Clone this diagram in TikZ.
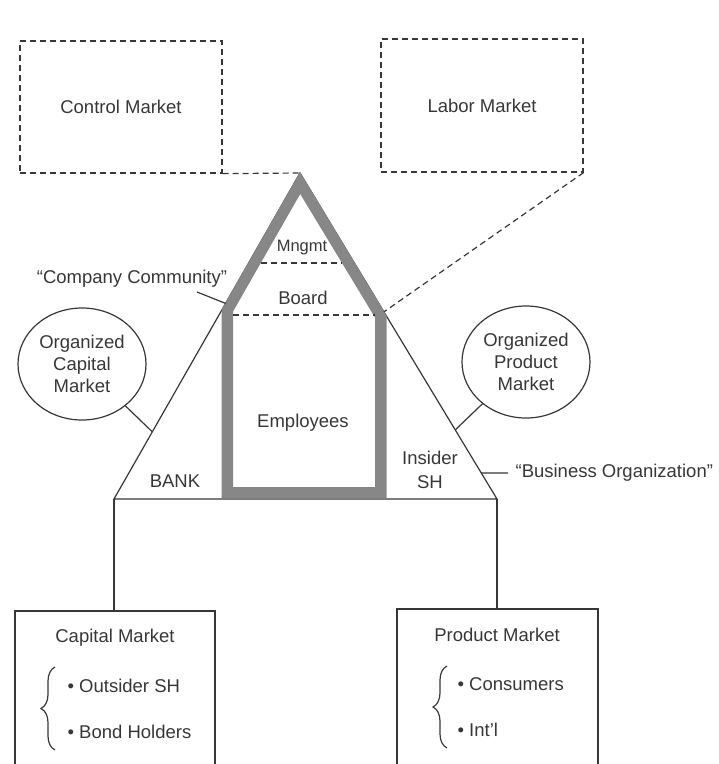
\documentclass[tikz,border=0pt]{standalone}
\usepackage{fontspec}
\setmainfont{Liberation Sans}
\usetikzlibrary{shapes.geometric,decorations.pathreplacing,calc}
\definecolor{housegray}{RGB}{135,135,135}
\definecolor{ink}{RGB}{55,55,55}
\begin{document}
\begin{tikzpicture}[x=1pt,y=-1pt,line width=1.2pt,
  inkline/.style={draw=ink},
  dline/.style={draw=ink,dash pattern=on 6pt off 4pt},
  lbl/.style={text=ink,font=\fontsize{18.5}{22}\selectfont,inner sep=0pt},
  dashbox/.style={dline,minimum width=202pt,minimum height=132pt,inner sep=0pt,text=ink,font=\fontsize{18.5}{22}\selectfont},
  solidbox/.style={draw=ink,inner sep=0pt},
  oval/.style={ellipse,draw=ink,minimum width=128pt,minimum height=112pt,inner sep=0pt,align=center,text=ink,font=\fontsize{18.5}{22}\selectfont},
  bracestyle/.style={draw=ink,decorate,decoration={brace,amplitude=14pt}}]
\useasboundingbox (0,0) rectangle (719,764);
\clip (0,0) rectangle (719,764);

% top dashed boxes
\node[dashbox] (ctrl) at (121,107) {Control Market};
\node[dashbox,minimum height=133pt] (labor) at (482,105.5) {Labor Market};

% triangle corners
\coordinate (apex) at (300,173);
\coordinate (bl) at (114,499);
\coordinate (br) at (497,499);
\draw[inkline] (apex) -- (bl) -- (br) -- cycle;

% house band
\fill[housegray,even odd rule]
  (300,172) -- (221.5,309.7) -- (221.5,498) -- (386.5,498) -- (386.5,315.3) -- cycle
  (300.2,194) -- (233,311.6) -- (233,487) -- (375,487) -- (375,317.5) -- cycle;
\draw[dline] (260.7,263) -- (342.1,263);
\draw[dline] (233,315) -- (375,315);

% dashed connectors
\coordinate (boardR) at ($(apex)!0.426!(br)$);
\draw[dline] (ctrl.south east) -- (apex);
\draw[dline] (labor.south east) -- (boardR);

% inner labels
\node[lbl,font=\fontsize{16.5}{20}\selectfont] (mng) at (302,248) {Mngmt};
\node[lbl] (board) at (303,298) {Board};
\node[lbl] (emp) at (303,423) {Employees};
\node[lbl] (bank) at (175,481) {BANK};
\node[lbl,align=center,font=\fontsize{18.5}{24}\selectfont] (ins) at (430,470) {Insider\\SH};

% ellipses
\node[oval] (ocm) at (82,364) {Organized\\Capital\\Market};
\node[oval] (opm) at (526,362) {Organized\\Product\\Market};
\coordinate (ocmL) at ($(apex)!0.794!(bl)$);
\coordinate (opmL) at ($(apex)!0.788!(br)$);
\draw[inkline] (ocm) -- (ocmL);
\draw[inkline] (opm) -- (opmL);

% side labels
\node[lbl] (cc) at (132,279) {“Company Community”};
\coordinate (ccS) at (197,292);
\coordinate (ccL) at ($(apex)!0.40!(bl)$);
\draw[inkline] (ccS) -- (ccL);
\node[lbl,anchor=west,inner xsep=7pt] (bo) at (508,473) {“Business Organization”};
\coordinate (boL) at ($(apex)!0.92!(br)$);
\draw[inkline] (boL) -- (bo.west);

% bottom boxes
\node[solidbox,minimum width=200pt,minimum height=170pt] (capbox) at (115,696) {};
\node[solidbox,minimum width=201pt,minimum height=170pt] (prodbox) at (497.5,694) {};
\draw[inkline] (bl) -- (bl |- capbox.north);
\draw[inkline] (br) -- (br |- prodbox.north);

\node[lbl] (capt) at (115,638) {Capital Market};
\node[lbl] (prodt) at (497,635) {Product Market};
\node[lbl,anchor=west] (b1) at (67,686) {• Outsider SH};
\node[lbl,anchor=west] (b2) at (67,732) {• Bond Holders};
\node[lbl,anchor=west] (b3) at (457,684) {• Consumers};
\node[lbl,anchor=west] (b4) at (457,730) {• Int’l};
\draw[bracestyle] (55,750) -- (55,667);
\draw[bracestyle] (447,748) -- (447,666);
\end{tikzpicture}
\end{document}
